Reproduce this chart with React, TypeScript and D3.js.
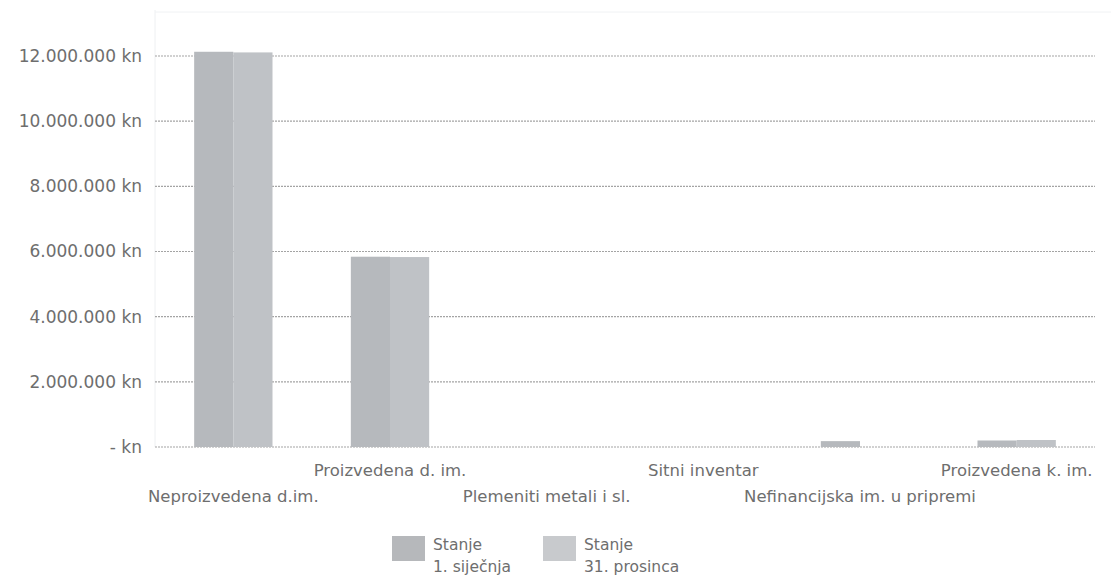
import React from "react";
import * as d3 from "d3";

const categories = [
  "Neproizvedena d.im.",
  "Proizvedena d. im.",
  "Plemeniti metali i sl.",
  "Sitni inventar",
  "Nefinancijska im. u pripremi",
  "Proizvedena k. im.",
];
const stanje1Sijecnja = [12130000, 5840000, 0, 0, 180000, 200000];
const stanje31Prosinca = [12110000, 5830000, 0, 0, 0, 215000];
const seriesNames = [
  ["Stanje", "1. siječnja"],
  ["Stanje", "31. prosinca"],
];
const yTicks = [0, 2000000, 4000000, 6000000, 8000000, 10000000, 12000000];

const W = 1111;
const H = 579;
const left = 155;
const right = 1095;
const top = 56;
const bottom = 447;
const colors = ["#b6b9bd", "#bfc2c6"];
const legendColors = ["#b6b8bb", "#c8cacd"];
const textColor = "#6e6e6e";
const font = "'DejaVu Sans', Verdana, sans-serif";

function fmt(v: number) {
  if (v === 0) return "- kn";
  const s = d3.format(",")(v).replace(/,/g, ".");
  return s + " kn";
}

export default function App() {
  const x = d3.scaleBand<string>().domain(categories).range([left, right]).paddingInner(0.5).paddingOuter(0.25);
  const x1 = d3.scaleBand<number>().domain([0, 1]).range([0, x.bandwidth()]);
  const y = d3.scaleLinear().domain([0, 12000000]).range([bottom, top]);
  const series = [stanje1Sijecnja, stanje31Prosinca];

  return (
    <svg width={W} height={H} style={{ position: "absolute", left: 0, top: 0, background: "#fff" }}>
      <line x1={left} x2={left} y1={10} y2={bottom} stroke="#eef0f2" strokeWidth={1} />
      <line x1={left} x2={W} y1={12} y2={12} stroke="#f0f2f4" strokeWidth={1} />
      {yTicks.map((t) => (
        <g key={t}>
          <line x1={left} x2={right} y1={y(t)} y2={y(t)} stroke="#a4a4a4" strokeWidth={1.2} strokeDasharray="2,1" />
          <text x={142} y={y(t)} dy="0.35em" textAnchor="end" fontFamily={font} fontSize={17} fill={textColor}>
            {fmt(t)}
          </text>
        </g>
      ))}
      {categories.map((c, i) =>
        series.map((s, k) => {
          const v = s[i];
          if (v <= 0) return null;
          return (
            <rect
              key={c + k}
              x={(x(c) as number) + (x1(k) as number)}
              y={y(v)}
              width={x1.bandwidth()}
              height={bottom - y(v)}
              fill={colors[k]}
            />
          );
        })
      )}
      {categories.map((c, i) => (
        <text
          key={c}
          x={(x(c) as number) + x.bandwidth() / 2}
          y={i % 2 === 1 ? 476 : 502}
          textAnchor="middle"
          fontFamily={font}
          fontSize={16.5}
          fill={textColor}
        >
          {c}
        </text>
      ))}
      {seriesNames.map((n, k) => {
        const lx = k === 0 ? 392 : 543;
        return (
          <g key={k}>
            <rect x={lx} y={536} width={33} height={25} fill={legendColors[k]} />
            <text x={lx + 41} y={550} fontFamily={font} fontSize={15.5} fill={textColor}>
              {n[0]}
            </text>
            <text x={lx + 41} y={572} fontFamily={font} fontSize={15.5} fill={textColor}>
              {n[1]}
            </text>
          </g>
        );
      })}
    </svg>
  );
}
